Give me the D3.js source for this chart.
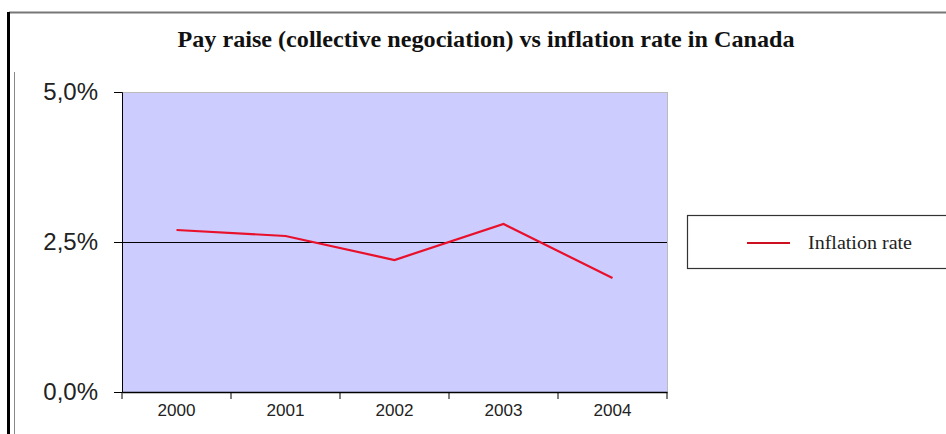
<!DOCTYPE html>
<html><head><meta charset="utf-8">
<script src="https://cdn.jsdelivr.net/npm/d3@7"></script>
<style>body{margin:0;background:#fff}svg{display:block}</style>
</head><body>
<svg id="c" width="946" height="434"></svg>
<script>
const title = "Pay raise (collective negociation) vs inflation rate in Canada";
const years = ["2000","2001","2002","2003","2004"];
const inflation = [2.7, 2.6, 2.2, 2.8, 1.9];
const yTicks = [0, 2.5, 5];
const seriesName = "Inflation rate";

const svg = d3.select("#c");
const L = 122, R = 667, T = 92, B = 392;

// frame
svg.append("line").attr("x1",9).attr("x2",946).attr("y1",12.5).attr("y2",12.5).attr("stroke","#777").attr("stroke-width",2);
svg.append("line").attr("x1",8.5).attr("x2",8.5).attr("y1",12).attr("y2",434).attr("stroke","#000").attr("stroke-width",3);
svg.append("line").attr("x1",14.5).attr("x2",14.5).attr("y1",72).attr("y2",434).attr("stroke","#888").attr("stroke-width",1);

// title
svg.append("text").attr("x",486).attr("y",47).attr("text-anchor","middle")
  .attr("font-family","Liberation Serif, Times New Roman, serif").attr("font-weight","bold")
  .attr("font-size",24).attr("fill","#111").text(title)
  .attr("textLength",617).attr("lengthAdjust","spacingAndGlyphs");

const x = d3.scaleBand().domain(years).range([L,R]);
const y = d3.scaleLinear().domain([0,5]).range([B,T]);

svg.append("rect").attr("x",L).attr("y",T).attr("width",R-L).attr("height",B-T).attr("fill","#ccccff");
svg.append("line").attr("x1",L).attr("x2",R).attr("y1",T+0.5).attr("y2",T+0.5).attr("stroke","#bbb");
svg.append("line").attr("x1",R+0.5).attr("x2",R+0.5).attr("y1",T).attr("y2",B).attr("stroke","#bbb");

// y axis
const ya = svg.append("g").attr("transform",`translate(${L},0)`)
  .call(d3.axisLeft(y).tickValues(yTicks).tickSize(8).tickPadding(16)
    .tickFormat(d => d.toFixed(1).replace(".",",") + "%"));
ya.select(".domain").attr("stroke","#000");
ya.selectAll(".tick line").attr("stroke","#000");
ya.selectAll("text").attr("font-family","Liberation Sans, Arial, sans-serif").attr("font-size",24).attr("fill","#222");

// reference gridline at 2.5
svg.append("line").attr("x1",L).attr("x2",R).attr("y1",Math.round(y(2.5))+0.5).attr("y2",Math.round(y(2.5))+0.5).attr("stroke","#000").attr("stroke-width",1.2);

// x axis
const xa = svg.append("g").attr("transform",`translate(0,${B})`)
  .call(d3.axisBottom(x).tickSize(0).tickPadding(12));
xa.select(".domain").attr("stroke","#000").attr("stroke-width",1.5);
xa.selectAll("text").attr("font-family","Liberation Sans, Arial, sans-serif").attr("font-size",17).attr("fill","#222")
  .attr("textLength",38).attr("lengthAdjust","spacingAndGlyphs");
const bounds = years.map(d => x(d)).concat([R]);
svg.append("g").selectAll("line").data(bounds).join("line")
  .attr("x1",d=>d).attr("x2",d=>d).attr("y1",B).attr("y2",B+7).attr("stroke","#000");

// line
const line = d3.line().x((d,i)=>x(years[i])+x.bandwidth()/2).y(d=>y(d));
svg.append("path").datum(inflation).attr("d",line).attr("fill","none").attr("stroke","#e8102a").attr("stroke-width",2.2);

// legend
svg.append("rect").attr("x",687.5).attr("y",215.5).attr("width",270).attr("height",53).attr("fill","#fff").attr("stroke","#333").attr("stroke-width",1.2);
svg.append("line").attr("x1",747).attr("x2",790).attr("y1",243).attr("y2",243).attr("stroke","#cc1020").attr("stroke-width",2.2);
svg.append("text").attr("x",808).attr("y",249).attr("font-family","Liberation Serif, Times New Roman, serif").attr("font-size",19).attr("fill","#222").text(seriesName)
  .attr("textLength",104).attr("lengthAdjust","spacingAndGlyphs");
</script>
</body></html>
